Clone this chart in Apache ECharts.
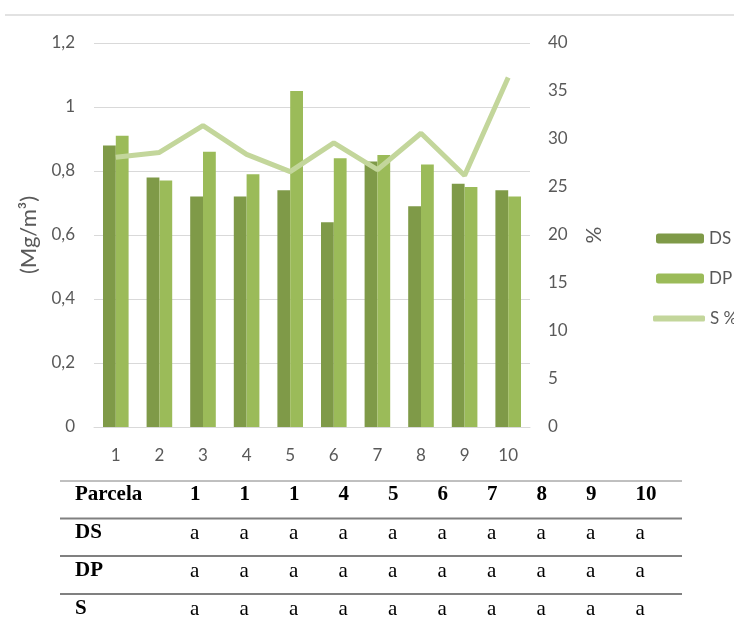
<!DOCTYPE html>
<html>
<head>
<meta charset="utf-8">
<script src="https://cdn.jsdelivr.net/npm/echarts@6/dist/echarts.min.js"></script>
<style>
  html, body { margin: 0; padding: 0; background: #fff; }
  #chart { width: 734px; height: 625px; }
</style>
</head>
<body>
<div id="chart"></div>
<script>
// categorias (parcelas)
const categories = ['1', '2', '3', '4', '5', '6', '7', '8', '9', '10'];
// densidad DS y DP (Mg/m3)
const dsValues = [0.88, 0.78, 0.72, 0.72, 0.74, 0.64, 0.83, 0.69, 0.76, 0.74];
const dpValues = [0.91, 0.77, 0.86, 0.79, 1.05, 0.84, 0.85, 0.82, 0.75, 0.72];
// S %
const sValues = [28.1, 28.6, 31.4, 28.4, 26.6, 29.6, 26.8, 30.6, 26.2, 36.4];

// tabla de letras debajo del grafico
const tableHeader = ['1', '1', '1', '4', '5', '6', '7', '8', '9', '10'];
const tableRowNames = ['DS', 'DP', 'S'];
const dsLetters = ['a', 'a', 'a', 'a', 'a', 'a', 'a', 'a', 'a', 'a'];
const dpLetters = ['a', 'a', 'a', 'a', 'a', 'a', 'a', 'a', 'a', 'a'];
const sLetters = ['a', 'a', 'a', 'a', 'a', 'a', 'a', 'a', 'a', 'a'];

const axisFont = 'Lato';
const tableFont = '"Liberation Serif", "Times New Roman", serif';

// construir la tabla con graphic
function buildTable() {
  const els = [];
  const colX = i => 190 + i * 49.5;
  const rowY = [495, 533, 571, 609];
  const lineY = [481, 518.5, 556, 594];
  lineY.forEach((y, i) => {
    els.push({
      type: 'line',
      shape: { x1: 60, y1: y, x2: 682, y2: y },
      style: { stroke: '#808080', lineWidth: i === 0 ? 1 : 2 },
      silent: true
    });
  });
  const rows = [tableHeader, dsLetters, dpLetters, sLetters];
  const names = ['Parcela'].concat(tableRowNames);
  rows.forEach((row, r) => {
    els.push({
      type: 'text',
      x: 75, y: rowY[r],
      style: {
        text: names[r], font: 'bold 21px ' + tableFont,
        fill: '#000', textVerticalAlign: 'middle'
      }
    });
    row.forEach((t, c) => {
      els.push({
        type: 'text',
        x: colX(c), y: rowY[r],
        style: {
          text: t,
          font: (r === 0 ? 'bold ' : '') + '21px ' + tableFont,
          fill: '#000', textVerticalAlign: 'middle'
        }
      });
    });
  });
  // linea superior del recuadro
  els.push({
    type: 'line',
    shape: { x1: 5, y1: 15, x2: 734, y2: 15 },
    style: { stroke: '#d9d9d9', lineWidth: 1.5 },
    silent: true
  });
  return els;
}

const chart = echarts.init(document.getElementById('chart'), null, { renderer: 'canvas' });
chart.setOption({
  animation: false,
  textStyle: { fontFamily: axisFont },
  grid: { left: 94, right: 204, top: 43, bottom: 198 },
  legend: [{
    orient: 'vertical',
    left: 651,
    top: 225,
    itemWidth: 48,
    itemHeight: 10,
    itemGap: 23,
    textStyle: { fontSize: 17, color: '#595959', fontFamily: axisFont },
    data: ['DS', 'DP']
  }, {
    orient: 'vertical',
    left: 648,
    top: 305,
    itemWidth: 52,
    itemHeight: 6,
    textStyle: { fontSize: 17, color: '#595959', fontFamily: axisFont },
    data: [{ name: 'S %', icon: 'roundRect' }]
  }],
  xAxis: {
    type: 'category',
    data: categories,
    axisLine: { lineStyle: { color: '#d9d9d9', width: 1 } },
    axisTick: { show: false },
    axisLabel: { color: '#595959', fontSize: 17, margin: 20 }
  },
  yAxis: [{
    type: 'value',
    min: 0,
    max: 1.2,
    interval: 0.2,
    name: '(Mg/m³)',
    nameLocation: 'middle',
    nameRotate: 90,
    nameGap: 54,
    nameTextStyle: { color: '#595959', fontSize: 22 },
    axisLine: { show: false },
    axisTick: { show: false },
    axisLabel: {
      color: '#595959', fontSize: 17, margin: 19,
      formatter: v => String(+v.toFixed(1)).replace('.', ',')
    },
    splitLine: { lineStyle: { color: '#d9d9d9', width: 1 } }
  }, {
    type: 'value',
    min: 0,
    max: 40,
    interval: 5,
    name: '%',
    nameLocation: 'middle',
    nameRotate: 90,
    nameGap: 54,
    nameTextStyle: { color: '#595959', fontSize: 21 },
    axisLine: { show: false },
    axisTick: { show: false },
    axisLabel: { color: '#595959', fontSize: 17, margin: 18 },
    splitLine: { show: false }
  }],
  series: [{
    name: 'DS',
    type: 'bar',
    data: dsValues,
    barWidth: 12.8,
    barGap: 0,
    itemStyle: { color: '#7f9a48' }
  }, {
    name: 'DP',
    type: 'bar',
    data: dpValues,
    barWidth: 12.8,
    barGap: 0,
    itemStyle: { color: '#9bbb59' }
  }, {
    name: 'S %',
    type: 'line',
    yAxisIndex: 1,
    data: sValues,
    symbol: 'none',
    z: 5,
    lineStyle: { color: '#c3d69b', width: 5 },
    itemStyle: { color: '#c3d69b' }
  }],
  graphic: buildTable()
});
</script>
</body>
</html>
